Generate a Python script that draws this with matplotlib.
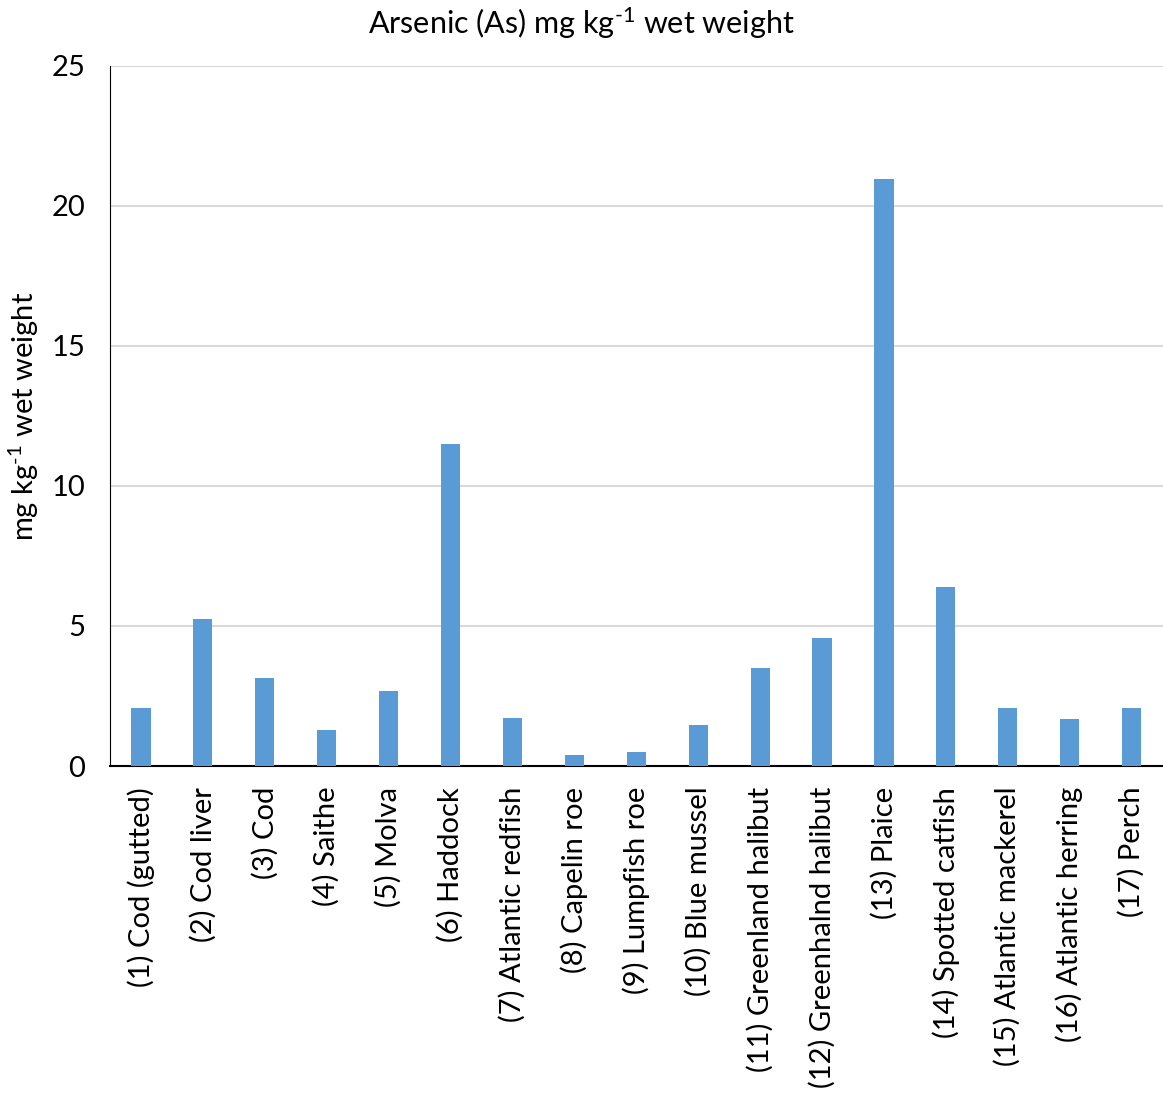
import numpy as np
import matplotlib
matplotlib.use("Agg")
import matplotlib.pyplot as plt

plt.rcParams['font.family'] = ['Lato', 'DejaVu Sans']
plt.rcParams['mathtext.fontset'] = 'custom'
plt.rcParams['mathtext.rm'] = 'Lato'
plt.rcParams['mathtext.it'] = 'Lato'
plt.rcParams['mathtext.default'] = 'regular'

species = [
    "(1) Cod (gutted)", "(2) Cod liver", "(3) Cod", "(4) Saithe", "(5) Molva",
    "(6) Haddock", "(7) Atlantic redfish", "(8) Capelin roe", "(9) Lumpfish roe",
    "(10) Blue mussel", "(11) Greenland halibut", "(12) Greenhalnd halibut",
    "(13) Plaice", "(14) Spotted catfish", "(15) Atlantic mackerel",
    "(16) Atlantic herring", "(17) Perch",
]
arsenic = [2.07, 5.25, 3.14, 1.27, 2.68, 11.5, 1.73, 0.4, 0.5, 1.47,
           3.5, 4.56, 20.95, 6.38, 2.07, 1.68, 2.07]
yticks = [0, 5, 10, 15, 20, 25]

unit = r'mg kg$^{\text{-}1}$ wet weight'

fig = plt.figure(figsize=(11.63, 10.99), dpi=100)
ax = fig.add_axes([0.0946, 0.303, 0.905, 0.637])

x = np.arange(len(species))
ax.bar(x, arsenic, width=0.31, color='#5b9bd5', zorder=3)

ax.set_xlim(-0.5, len(species) - 0.5)
ax.set_ylim(0, 25)
ax.set_yticks(yticks)
ax.yaxis.grid(True, color='#d9d9d9', linewidth=1.5, zorder=0)
ax.set_xticks(x)
ax.set_xticklabels(species, rotation=90, fontsize=21)
ax.tick_params(axis='x', length=0, pad=15)
ax.tick_params(axis='y', length=0, pad=18, labelsize=21)

for side in ['top', 'right']:
    ax.spines[side].set_visible(False)
ax.spines['left'].set_color('black')
ax.spines['bottom'].set_color('black')
ax.spines['bottom'].set_linewidth(1.5)

ax.set_ylabel(unit, fontsize=21, labelpad=7)
# title centred on the whole figure rather than the axes
fig.text(0.5, 0.979, 'Arsenic (As) ' + unit, fontsize=22,
         ha='center', va='center')

fig.savefig('out.png', dpi=100)
